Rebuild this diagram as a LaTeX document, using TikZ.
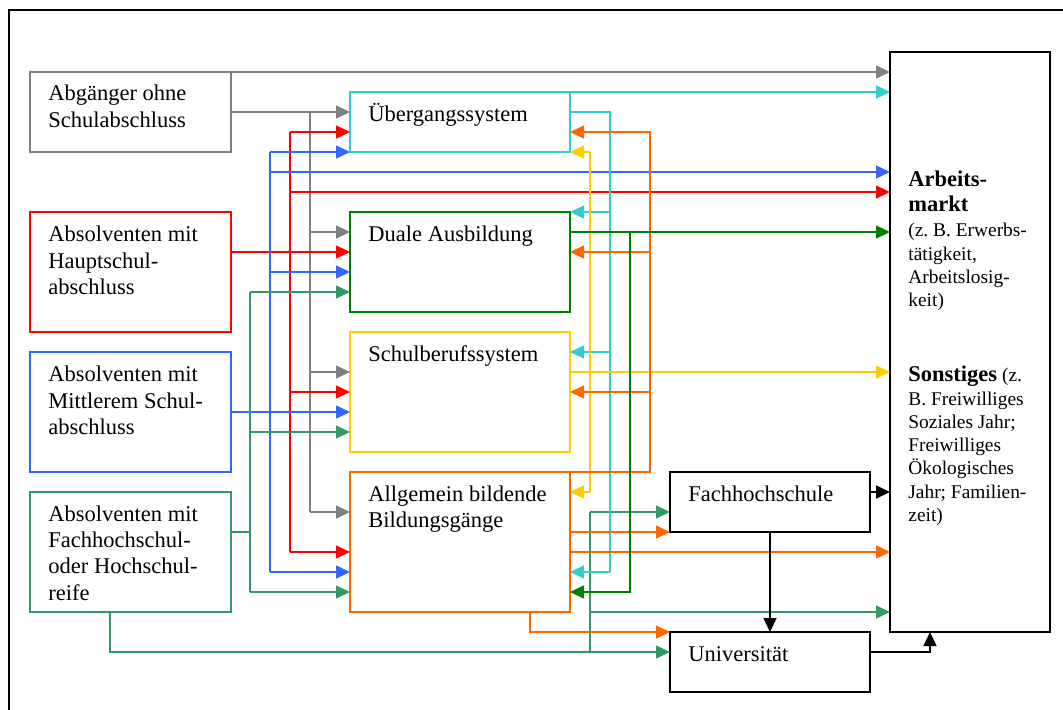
\documentclass[tikz,border=0pt]{standalone}
\usepackage{fontspec}
\setmainfont{Liberation Serif}
\usetikzlibrary{arrows.meta}
\definecolor{cgray}{HTML}{808080}
\definecolor{ccyan}{HTML}{33CCCC}
\definecolor{cred}{HTML}{FF0000}
\definecolor{cblue}{HTML}{3366FF}
\definecolor{csea}{HTML}{339966}
\definecolor{cdgreen}{HTML}{008000}
\definecolor{cyellow}{HTML}{FFCC00}
\definecolor{corange}{HTML}{FF6600}
\frenchspacing
\tikzset{
  box/.style={draw=#1, line width=0.7pt, anchor=north west, inner sep=0pt, outer sep=0pt},
  bbox/.style={draw=black, line width=0.9pt, anchor=north west, inner sep=0pt, outer sep=0pt},
  txt/.style={anchor=base west, align=left, inner sep=0pt, font=\fontsize{11.25}{13.2}\selectfont\frenchspacing},
  smalltxt/.style={anchor=base west, align=left, inner sep=0pt, font=\fontsize{9.7}{11.65}\selectfont\frenchspacing},
  conn/.style={draw=#1, line width=0.65pt},
  arr/.style={-{Triangle[length=7pt,width=6.5pt]}},
}
\begin{document}
\begin{tikzpicture}[x=0.5pt,y=-0.5pt]
\useasboundingbox (0,0) rectangle (1063,709);
\clip (0,0) rectangle (1063,709);
% outer frame
\draw[line width=1pt] (9,10) rectangle (1080,730);

% boxes
\node[box=cgray, minimum width=100.5pt, minimum height=40pt] (abg) at (30,72) {};
\node[box=cred, minimum width=100.5pt, minimum height=60pt] (haupt) at (30,212) {};
\node[box=cblue, minimum width=100.5pt, minimum height=60pt] (mittl) at (30,352) {};
\node[box=csea, minimum width=100.5pt, minimum height=60pt] (hoch) at (30,492) {};
\node[box=ccyan, minimum width=110pt, minimum height=30pt] (ueb) at (350,92) {};
\node[box=cdgreen, minimum width=110pt, minimum height=50pt] (dual) at (350,212) {};
\node[box=cyellow, minimum width=110pt, minimum height=60pt] (schul) at (350,332) {};
\node[box=corange, minimum width=110pt, minimum height=70pt] (allg) at (350,472) {};
\node[bbox, minimum width=100pt, minimum height=30pt] (fh) at (670,472) {};
\node[bbox, minimum width=100pt, minimum height=30pt] (uni) at (670,632) {};
\node[bbox, line width=1pt, minimum width=80pt, minimum height=290pt] (arb) at (890,52) {};

% texts (base anchor = baseline of last line)
\node[txt] (abgT) at (48,127.1) {Abgänger ohne\\Schulabschluss};
\node[txt] (hauptT) at (48,294.5) {Absolventen mit\\Hauptschul-\\abschluss};
\node[txt] (mittlT) at (48,434.5) {Absolventen mit\\Mittlerem Schul-\\abschluss};
\node[txt] (hochT) at (48,600.2) {Absolventen mit\\Fachhochschul-\\oder Hochschul-\\reife};
\node[txt] (uebT) at (368,121.7) {Übergangssystem};
\node[txt] (dualT) at (368,241.7) {Duale Ausbildung};
\node[txt] (schulT) at (368,361.7) {Schulberufssystem};
\node[txt] (allgT) at (368,527.7) {Allgemein bildende\\Bildungsgänge};
\node[txt] (fhT) at (688,501.7) {Fachhochschule};
\node[txt] (uniT) at (688,661) {Universität};
\node[txt, font=\fontsize{11.25}{12.85}\selectfont\bfseries] (arbT1) at (908,211.7) {Arbeits-\\markt};
\node[smalltxt] (arbT2) at (908,306.6) {(z. B. Erwerbs-\\tätigkeit,\\Arbeitslosig-\\keit)};
\node[smalltxt] (arbT3) at (908,521.5) {{\fontsize{11.25}{13}\selectfont\bfseries Sonstiges} (z.\\B. Freiwilliges\\Soziales Jahr;\\Freiwilliges\\Ökologisches\\Jahr; Familien-\\zeit)};

% junction coordinates
\coordinate (g1) at (310,112);
\coordinate (g2) at (310,232);
\coordinate (g3) at (310,372);
\coordinate (g4) at (310,512);
\coordinate (r0) at (290,132);
\coordinate (r1) at (290,192);
\coordinate (r2) at (290,392);
\coordinate (r3) at (290,552);
\coordinate (b0) at (270,152);
\coordinate (b1) at (270,172);
\coordinate (b2) at (270,272);
\coordinate (b3) at (270,572);
\coordinate (s0) at (250,292);
\coordinate (s1) at (250,432);
\coordinate (s2) at (250,592);
\coordinate (s4) at (250,532);
\coordinate (h5) at (110,652);
\coordinate (s6) at (590,512);
\coordinate (s7) at (590,612);
\coordinate (c0) at (610,112);
\coordinate (c1) at (610,212);
\coordinate (c2) at (610,352);
\coordinate (c3) at (610,572);
\coordinate (y0) at (590,372);
\coordinate (y1) at (590,152);
\coordinate (y2) at (590,492);
\coordinate (o0) at (650,132);
\coordinate (o1) at (650,252);
\coordinate (o2) at (650,392);
\coordinate (o3) at (650,472);
\coordinate (o4) at (600,552);
\coordinate (o5) at (530,632);
\coordinate (d0) at (630,232);
\coordinate (d1) at (630,592);
\coordinate (k0) at (930,652);

% gray
\draw[conn=cgray, arr] (abg.north east) -- (abg.north east -| arb.west);
\draw[conn=cgray, arr] (abg.east) -- (abg.east -| ueb.west);
\draw[conn=cgray] (g1) -- (g4);
\draw[conn=cgray, arr] (g2) -- (g2 -| dual.west);
\draw[conn=cgray, arr] (g3) -- (g3 -| schul.west);
\draw[conn=cgray, arr] (g4) -- (g4 -| allg.west);

% red
\draw[conn=cred, arr] ([yshift=10pt]haupt.east) -- ([yshift=5pt]dual.west);
\draw[conn=cred] (r0) -- (r3);
\draw[conn=cred, arr] (r0) -- (r0 -| ueb.west);
\draw[conn=cred, arr] (r1) -- (r1 -| arb.west);
\draw[conn=cred, arr] (r2) -- (r2 -| schul.west);
\draw[conn=cred, arr] (r3) -- (r3 -| allg.west);

% blue
\draw[conn=cblue, arr] (mittl.east) -- (mittl.east -| schul.west);
\draw[conn=cblue] (b0) -- (b3);
\draw[conn=cblue, arr] (b0) -- (b0 -| ueb.west);
\draw[conn=cblue, arr] (b1) -- (b1 -| arb.west);
\draw[conn=cblue, arr] (b2) -- (b2 -| dual.west);
\draw[conn=cblue, arr] (b3) -- (b3 -| allg.west);

% sea green
\draw[conn=csea] ([yshift=10pt]hoch.east) -- (s4);
\draw[conn=csea] (s0) -- (s2);
\draw[conn=csea, arr] (s0) -- (s0 -| dual.west);
\draw[conn=csea, arr] (s1) -- (s1 -| schul.west);
\draw[conn=csea, arr] (s2) -- (s2 -| allg.west);
\draw[conn=csea, arr] (h5 |- hoch.south) -- (h5) -- (h5 -| uni.west);
\draw[conn=csea] (s6 |- h5) -- (s6);
\draw[conn=csea, arr] (s6) -- (s6 -| fh.west);
\draw[conn=csea, arr] (s7) -- (s7 -| arb.west);

% cyan
\draw[conn=ccyan, arr] (ueb.north east) -- (ueb.north east -| arb.west);
\draw[conn=ccyan] (c0 -| ueb.east) -- (c0) -- (c3);
\draw[conn=ccyan, arr] (c1) -- (c1 -| dual.east);
\draw[conn=ccyan, arr] (c2) -- (c2 -| schul.east);
\draw[conn=ccyan, arr] (c3) -- (c3 -| allg.east);

% yellow
\draw[conn=cyellow, arr] (y0 -| schul.east) -- (y0 -| arb.west);
\draw[conn=cyellow] (y1) -- (y2);
\draw[conn=cyellow, arr] (y1) -- (y1 -| ueb.east);
\draw[conn=cyellow, arr] (y2) -- (y2 -| allg.east);

% orange
\draw[conn=corange, arr] (allg.north east) -- (o3) -- (o0) -- (o0 -| ueb.east);
\draw[conn=corange, arr] (o1) -- (o1 -| dual.east);
\draw[conn=corange, arr] (o2) -- (o2 -| schul.east);
\draw[conn=corange, arr] (fh.south west -| allg.east) -- (fh.south west);
\draw[conn=corange, arr] (o4 -| allg.east) -- (o4 -| arb.west);
\draw[conn=corange, arr] (o5 |- allg.south) -- (o5) -- (uni.north west);

% dark green
\draw[conn=cdgreen, arr] (d0 -| dual.east) -- (d0 -| arb.west);
\draw[conn=cdgreen, arr] (d0) -- (d1) -- (d1 -| allg.east);

% black
\draw[conn=black, line width=0.8pt, arr] ([yshift=5pt]fh.east) -- ([yshift=5pt]fh.east -| arb.west);
\draw[conn=black, line width=0.8pt, arr] (fh.south) -- (uni.north);
\draw[conn=black, line width=0.8pt, arr] ([yshift=5pt]uni.east) -- (k0) -- (k0 |- arb.south);
\end{tikzpicture}
\end{document}
